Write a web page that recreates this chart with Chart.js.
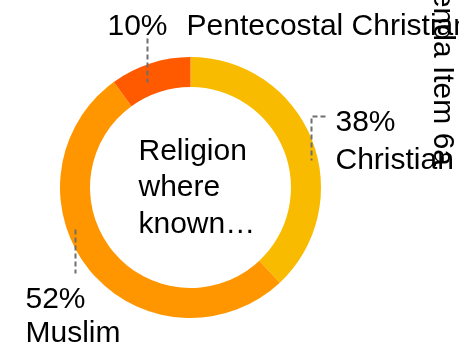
<!DOCTYPE html>
<html>
<head>
<meta charset="utf-8">
<script src="https://cdn.jsdelivr.net/npm/chart.js@4/dist/chart.umd.min.js"></script>
<style>
  html, body { margin: 0; padding: 0; background: #fff; overflow: hidden; }
  canvas { display: block; }
</style>
</head>
<body>
<canvas id="grafico" width="459" height="343"></canvas>
<script>
// Datos del gráfico
const categorias = ['Christian', 'Muslim', 'Pentecostal Christian'];
const valores = [38, 52, 10];
const etiquetasPct = ['38%', '52%', '10%'];
const colores = ['#F9BB00', '#FF9600', '#FF5A00'];
const tituloCentro = ['Religion', 'where', 'known…'];
const textoLateral = 'Agenda Item 6a';

const FUENTE = '30px "Liberation Sans", Arial, sans-serif';

// Posición de cada etiqueta respecto al centro del anillo (líneas guía y textos)
const disposicion = [
    { // Christian
        linea: [[135, -71], [121, -71], [121, -27]],
        pct: [145, -57], nombre: [145, -19]
    },
    { // Muslim
        linea: [[-115, 42], [-115, 86]],
        pct: [-165, 120], nombre: [-165, 154]
    },
    { // Pentecostal Christian
        linea: [[-43, -149], [-43, -105]],
        pct: [-83, -153], nombre: [-4, -153]
    }
];

// Plugin para dibujar etiquetas, texto central y texto girado
const pluginEtiquetas = {
    id: 'etiquetas',
    afterDraw: (chart) => {
        const ctx = chart.ctx;
        const arcos = chart.getDatasetMeta(0).data;
        const cx = arcos[0].x;
        const cy = arcos[0].y;

        ctx.save();
        ctx.font = FUENTE;
        ctx.fillStyle = '#000';
        ctx.textAlign = 'left';
        ctx.textBaseline = 'alphabetic';

        // líneas guía punteadas
        ctx.strokeStyle = '#6f6f6f';
        ctx.lineWidth = 2;
        ctx.setLineDash([5, 3]);
        disposicion.forEach(d => {
            ctx.beginPath();
            d.linea.forEach((p, i) => {
                if (i === 0) ctx.moveTo(cx + p[0], cy + p[1]);
                else ctx.lineTo(cx + p[0], cy + p[1]);
            });
            ctx.stroke();
        });
        ctx.setLineDash([]);

        // textos de las etiquetas
        categorias.forEach((cat, i) => {
            const d = disposicion[i];
            ctx.fillText(etiquetasPct[i], cx + d.pct[0], cy + d.pct[1]);
            ctx.fillText(cat, cx + d.nombre[0], cy + d.nombre[1]);
        });

        // texto en el centro
        tituloCentro.forEach((linea, i) => {
            ctx.fillText(linea, cx - 52, cy - 28 + i * 36.5);
        });

        // texto girado a la derecha
        ctx.translate(434, 166);
        ctx.rotate(Math.PI / 2);
        ctx.textAlign = 'right';
        ctx.fillText(textoLateral, 0, 0);
        ctx.restore();
    }
};

new Chart(document.getElementById('grafico'), {
    type: 'doughnut',
    data: {
        labels: categorias,
        datasets: [{
            data: valores,
            backgroundColor: colores,
            borderWidth: 0
        }]
    },
    options: {
        responsive: false,
        animation: false,
        cutout: '77%',
        layout: {
            padding: { left: 60, top: 57, right: 138, bottom: 25 }
        },
        plugins: {
            legend: { display: false },
            tooltip: { enabled: false }
        }
    },
    plugins: [pluginEtiquetas]
});
</script>
</body>
</html>
